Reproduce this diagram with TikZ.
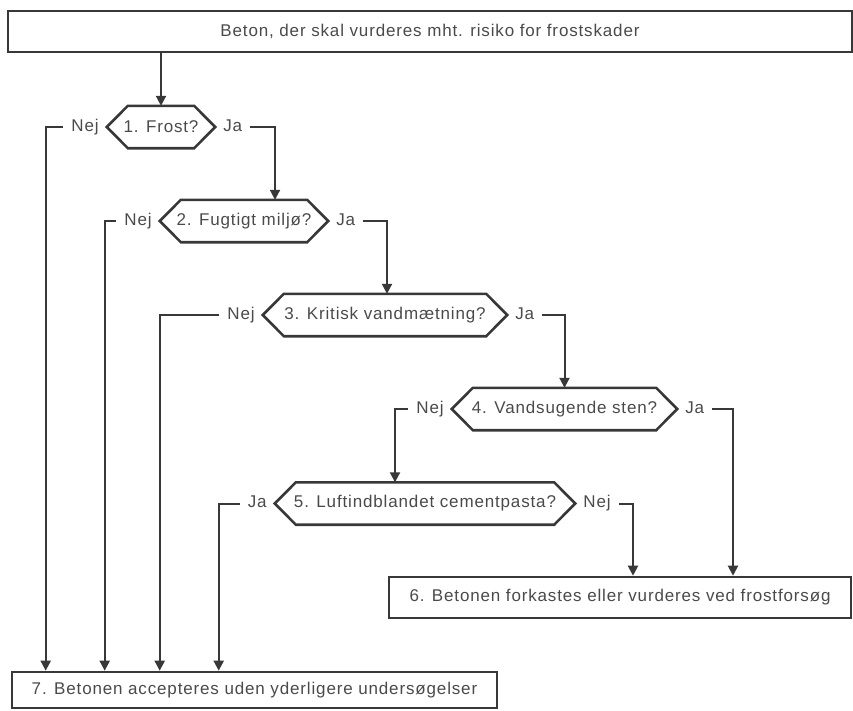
\documentclass[tikz,border=0pt]{standalone}
\usepackage{fontspec}
\setmainfont[LetterSpace=5]{Liberation Sans}
\usepackage{tikz}
\usetikzlibrary{arrows.meta}

\definecolor{ink}{HTML}{383838}
\definecolor{txt}{HTML}{4A4A4A}

% hexagon round a question node
\newcommand{\hexa}[1]{%
  \draw[frame] (#1.west) -- ([xshift=21pt]#1.north west) -- ([xshift=-21pt]#1.north east)
    -- (#1.east) -- ([xshift=-21pt]#1.south east) -- ([xshift=21pt]#1.south west) -- cycle;}

\begin{document}
\begin{tikzpicture}[x=1pt,y=-1pt,
    font=\fontsize{17}{20}\selectfont, text=txt,
    frame/.style={draw=ink, line width=2.6pt, line join=miter},
    box/.style={frame, rectangle, inner sep=0pt, minimum height=41pt},
    quest/.style={inner sep=0pt, minimum height=42pt},
    lbl/.style={inner xsep=8pt, inner ysep=0pt, text height=12pt, text depth=4pt},
    arr/.style={draw=ink, line width=2pt, -{Triangle[width=10pt,length=10pt]}}]
    \useasboundingbox (0,0) rectangle (853,710);

    % boxes
    \node[box, minimum width=844pt] (start) at (430,31.5) {Beton, der skal vurderes mht. risiko for frostskader};
    \node[box, minimum width=462pt] (b6) at (620,597.5) {6. Betonen forkastes eller vurderes ved frostforsøg};
    \node[box, minimum width=485pt, minimum height=36pt] (b7) at (254.5,690) {7. Betonen accepteres uden yderligere undersøgelser};

    % questions
    \node[quest, minimum width=108pt] (q1) at (161,127) {1. Frost?};
    \node[quest, minimum width=168pt] (q2) at (244,221) {2. Fugtigt miljø?};
    \node[quest, minimum width=244pt] (q3) at (385,315) {3. Kritisk vandmætning?};
    \node[quest, minimum width=225pt] (q4) at (564.5,409) {4. Vandsugende sten?};
    \node[quest, minimum width=300pt] (q5) at (425,503.5) {5. Luftindblandet cementpasta?};
    \foreach \q in {q1,q2,q3,q4,q5} {\hexa{\q}}

    % answers
    \node[lbl, anchor=east] (nej1) at (q1.west) {Nej};
    \node[lbl, anchor=west] (ja1) at (q1.east) {Ja};
    \node[lbl, anchor=east] (nej2) at (q2.west) {Nej};
    \node[lbl, anchor=west] (ja2) at (q2.east) {Ja};
    \node[lbl, anchor=east] (nej3) at (q3.west) {Nej};
    \node[lbl, anchor=west] (ja3) at (q3.east) {Ja};
    \node[lbl, anchor=east] (nej4) at (q4.west) {Nej};
    \node[lbl, anchor=west] (ja4) at (q4.east) {Ja};
    \node[lbl, anchor=east] (ja5) at (q5.west) {Ja};
    \node[lbl, anchor=west] (nej5) at (q5.east) {Nej};

    % connectors
    \draw[arr] (start.south -| q1.north) -- (q1.north);
    \draw[arr] (ja1.east) -| ([xshift=31pt]q2.north);
    \draw[arr] (ja2.east) -| ([xshift=2pt]q3.north);
    \draw[arr] (ja3.east) -| (q4.north);
    \draw[arr] (nej4.west) -| ([xshift=-30pt]q5.north);
    \draw[arr] (ja4.east) -| ([xshift=113pt]b6.north);
    \draw[arr] (nej5.east) -| ([xshift=13pt]b6.north);
    \draw[arr] (nej1.west) -| ([xshift=35pt]b7.north west);
    \draw[arr] (nej2.west) -| ([xshift=94pt]b7.north west);
    \draw[arr] (nej3.west) -| ([xshift=149pt]b7.north west);
    \draw[arr] (ja5.west) -| ([xshift=208pt]b7.north west);
\end{tikzpicture}
\end{document}
